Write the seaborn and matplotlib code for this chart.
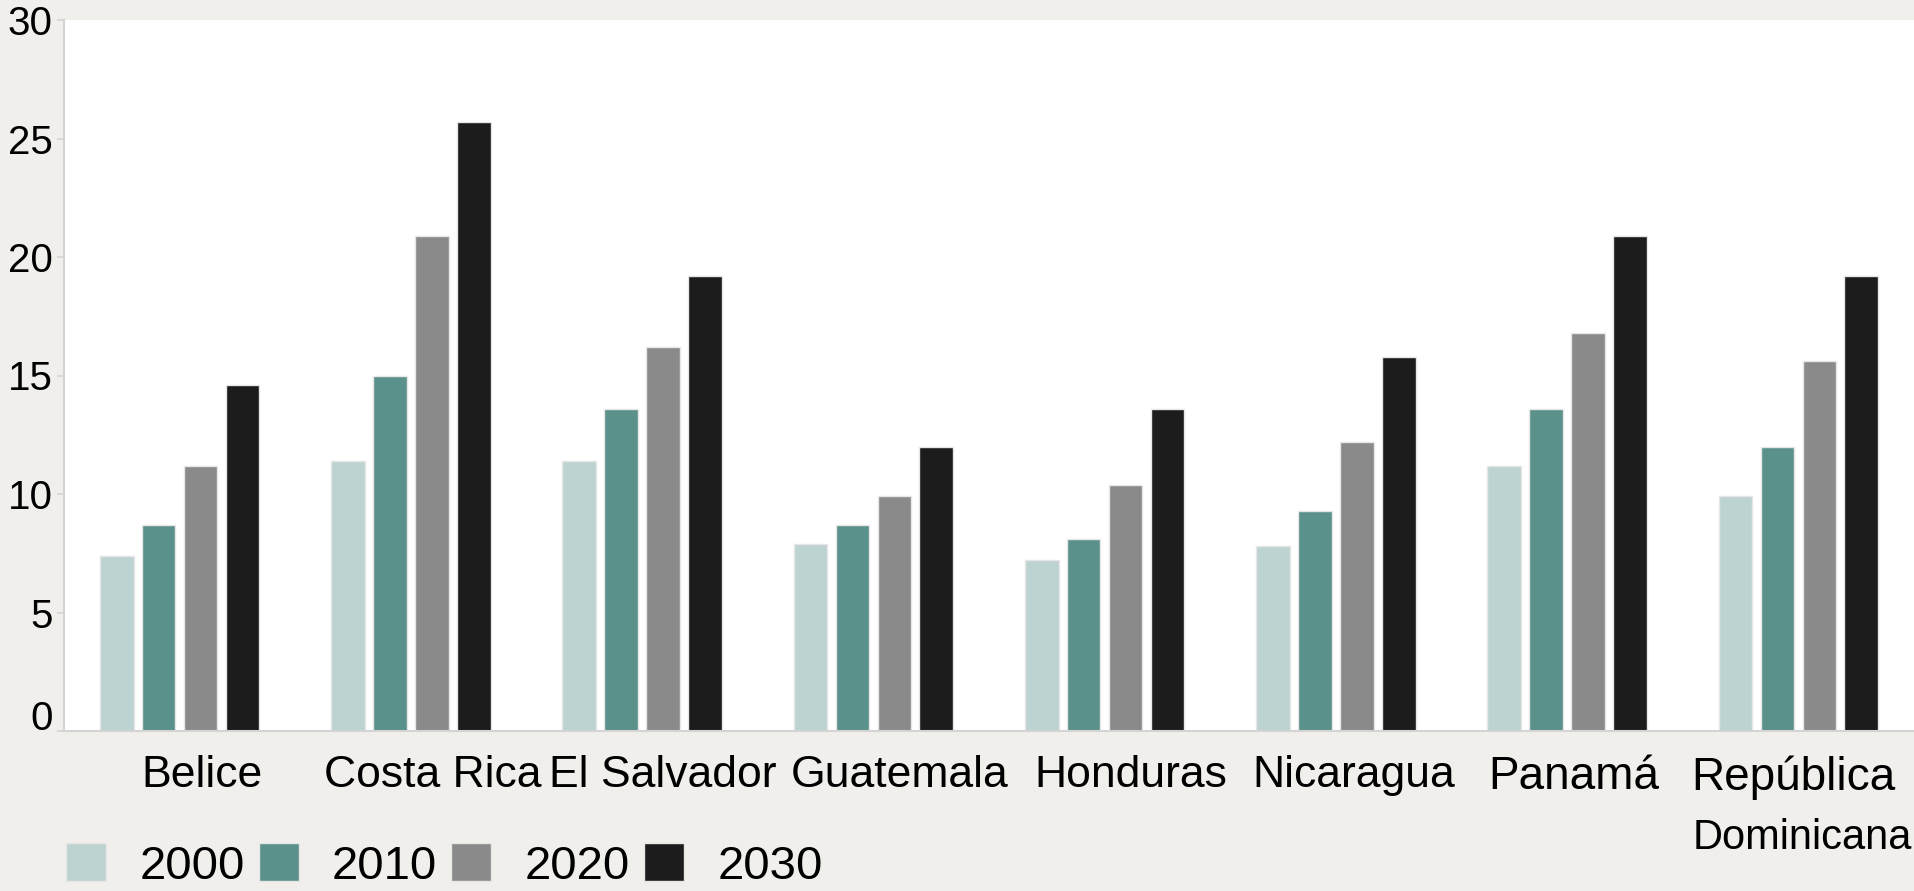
import pandas as pd
import numpy as np
import matplotlib.pyplot as plt
import matplotlib.transforms as mtransforms
import seaborn as sns

# ---------------------------------------------------------------
# data
# ---------------------------------------------------------------
countries = ['Belice', 'Costa Rica', 'El Salvador', 'Guatemala', 'Honduras',
             'Nicaragua', 'Panamá', 'República']
years = ['2000', '2010', '2020', '2030']
v2000 = [7.4, 11.4, 11.4, 7.9, 7.2, 7.8, 11.2, 9.9]
v2010 = [8.7, 15.0, 13.6, 8.7, 8.1, 9.3, 13.6, 12.0]
v2020 = [11.2, 20.9, 16.2, 9.9, 10.4, 12.2, 16.8, 15.6]
v2030 = [14.6, 25.7, 19.2, 12.0, 13.6, 15.8, 20.9, 19.2]
yticks = [0, 5, 10, 15, 20, 25, 30]
colors = ['#bdd3d1', '#5b918b', '#8a8a8a', '#1c1c1c']

df = pd.DataFrame({'country': countries * 4,
                   'year': np.repeat(years, len(countries)),
                   'value': v2000 + v2010 + v2020 + v2030})

sns.set_style("white")
plt.rcParams['font.family'] = ['Liberation Sans', 'DejaVu Sans']
plt.rcParams['text.color'] = 'black'

fig = plt.figure(figsize=(19.14, 8.91), dpi=100, facecolor='#f1efec')
ax = fig.add_axes([64 / 1914, 1 - 731 / 891, 1 - 64 / 1914, (731 - 20) / 891])
ax.set_facecolor('white')

sns.barplot(data=df, x='country', y='value', hue='year', palette=colors, saturation=1,
            width=0.725, gap=0.2, edgecolor='#e6e6e6', linewidth=1, ax=ax)

ax.set_xlim(-0.5, 7.5)
ax.set_ylim(0, 30)
ax.set_yticks(yticks)
ax.set_xlabel('')
ax.set_ylabel('')
for s in ['top', 'right']:
    ax.spines[s].set_visible(False)
for s in ['left', 'bottom']:
    ax.spines[s].set_color('#d4d4d4')
    ax.spines[s].set_linewidth(1.5)
ax.tick_params(axis='y', left=True, length=5, width=1.2, color='#d4d4d4',
               labelsize=29, pad=3, labelcolor='black')
ax.tick_params(axis='x', bottom=False, labelsize=32, pad=14, labelcolor='black')

# x labels sit a bit right of the groups in the original
x_shift = [22, 22, 21, 26, 26, 18, 7, -5]
for lab, dx in zip(ax.get_xticklabels(), x_shift):
    lab.set_transform(lab.get_transform() +
                      mtransforms.ScaledTranslation(dx / 100, 0, fig.dpi_scale_trans))
    if lab.get_text() in ('Panamá', 'República'):
        lab.set_fontsize(33)
# the "0" label sits a little higher than its tick
zero = ax.yaxis.get_major_ticks()[0].label1
zero.set_transform(zero.get_transform() +
                   mtransforms.ScaledTranslation(0, 16 / 100, fig.dpi_scale_trans))

fig.text(1802 / 1914, 1 - 838 / 891, 'Dominicana', ha='center', va='center', fontsize=30)

handles, labels = ax.get_legend_handles_labels()
ax.get_legend().remove()
fig.legend(handles, labels, loc='center left', bbox_to_anchor=(66 / 1914, 1 - 866 / 891),
           ncol=4, frameon=False, fontsize=34, handlelength=0.85, handleheight=0.85,
           handletextpad=0.7, columnspacing=0.3, borderpad=0, borderaxespad=0)

fig.savefig('out.png', dpi=100, facecolor=fig.get_facecolor())
